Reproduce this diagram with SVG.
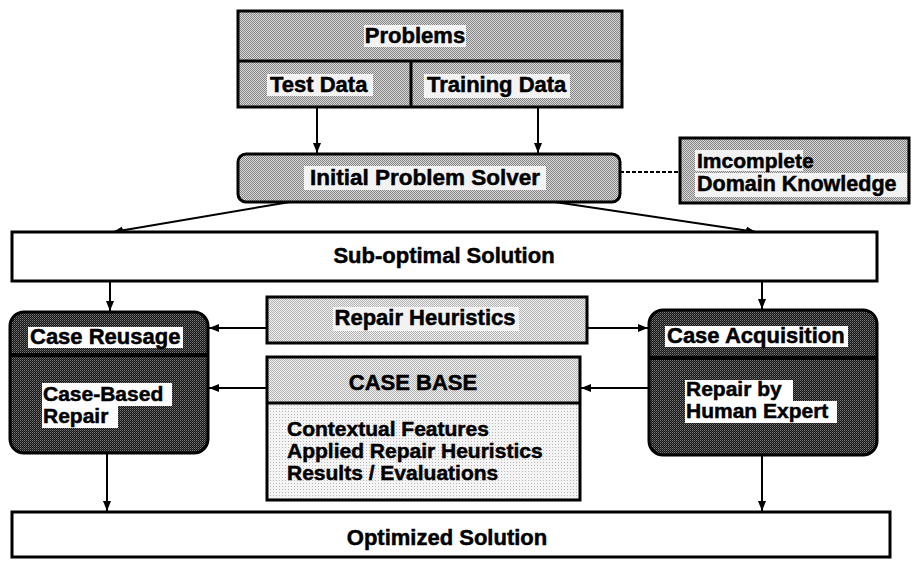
<svg xmlns="http://www.w3.org/2000/svg" width="912" height="562" viewBox="0 0 912 562">
<defs>
<style>
text{font-family:"Liberation Sans",Arial,Helvetica,sans-serif;font-weight:bold;font-size:22px;fill:#000;stroke:#000;stroke-width:0.5}
.c{text-anchor:middle}
.m{font-size:20px}
.box{stroke:#000;stroke-width:3}
.div{stroke:#000;stroke-width:3}
.ddiv{stroke:#000;stroke-width:4}
.lbl{fill:#fff}
.halo{fill:#f2f2f2}
.conn line,.conn path{stroke:#000;stroke-width:2;fill:none}
</style>
<pattern id="pMid" width="2" height="2" patternUnits="userSpaceOnUse">
<rect width="2" height="2" fill="#d8d8d8"/>
<rect width="1" height="1" fill="#858585"/>
<rect x="1" y="1" width="1" height="1" fill="#858585"/>
</pattern>
<pattern id="pLight" width="2" height="2" patternUnits="userSpaceOnUse">
<rect width="2" height="2" fill="#efefef"/>
<rect width="1" height="1" fill="#b4b4b4"/>
<rect x="1" y="1" width="1" height="1" fill="#b4b4b4"/>
</pattern>
<pattern id="pLighter" width="3" height="3" patternUnits="userSpaceOnUse">
<rect width="3" height="3" fill="#f4f4f4"/>
<rect width="1" height="1" fill="#b8b8b8"/>
</pattern>
<pattern id="pDark" width="2" height="2" patternUnits="userSpaceOnUse">
<rect width="2" height="2" fill="#151515"/>
<rect width="1" height="1" fill="#7a7a7a"/>
<rect x="1" y="1" width="1" height="1" fill="#4a4a4a"/>
</pattern>
<marker id="arr" markerWidth="10" markerHeight="8" refX="10" refY="4" orient="auto" markerUnits="userSpaceOnUse">
<path d="M0,0 L10,4 L0,8 z" fill="#000"/>
</marker>
</defs>
<rect width="912" height="562" fill="#fff"/>

<g class="conn" id="connectors">
<line x1="317" y1="107" x2="317" y2="153" marker-end="url(#arr)"/>
<line x1="538" y1="107" x2="538" y2="153" marker-end="url(#arr)"/>
<line x1="620" y1="172" x2="680" y2="172" stroke-dasharray="4,2"/>
<line x1="290" y1="202" x2="113" y2="232" marker-end="url(#arr)"/>
<line x1="555" y1="202" x2="756" y2="232" marker-end="url(#arr)"/>
<line x1="110" y1="281" x2="110" y2="311" marker-end="url(#arr)"/>
<line x1="762" y1="281" x2="762" y2="309" marker-end="url(#arr)"/>
<line x1="267" y1="328" x2="209" y2="328" marker-end="url(#arr)"/>
<line x1="587" y1="328" x2="648" y2="328" marker-end="url(#arr)"/>
<line x1="267" y1="388" x2="209" y2="388" marker-end="url(#arr)"/>
<line x1="649" y1="388" x2="581" y2="388" marker-end="url(#arr)"/>
<line x1="107" y1="453" x2="107" y2="511" marker-end="url(#arr)"/>
<line x1="762" y1="455" x2="762" y2="511" marker-end="url(#arr)"/>
</g>

<g id="problems">
<rect class="box" x="238" y="11" width="384" height="96" fill="url(#pMid)"/>
<line class="div" x1="238" y1="61" x2="622" y2="61"/>
<line class="div" x1="411" y1="61" x2="411" y2="107"/>
<rect class="halo" x="364" y="25" width="102" height="22"/>
<text class="c" x="415" y="43">Problems</text>
<rect class="halo" x="267" y="74" width="106" height="22"/>
<text x="270" y="92">Test Data</text>
<rect class="halo" x="424" y="74" width="146" height="24"/>
<text x="427" y="92">Training Data</text>
</g>

<g id="initial-problem-solver">
<rect class="box" x="238" y="154" width="382" height="48" rx="8" fill="url(#pMid)"/>
<rect class="halo" x="304" y="166" width="242" height="24"/>
<text class="c" x="425" y="185" style="font-size:22.5px">Initial Problem Solver</text>
</g>

<g id="incomplete-domain-knowledge">
<rect class="box" x="680" y="138" width="229" height="65" fill="url(#pMid)"/>
<rect class="halo" x="695" y="150" width="108" height="21"/>
<rect class="halo" x="695" y="173" width="212" height="24"/>
<text x="697" y="168" class="m" style="font-size:21px">Imcomplete</text>
<text x="697" y="191" style="font-size:21.5px">Domain Knowledge</text>
</g>

<g id="sub-optimal-solution">
<rect class="box" x="12" y="232" width="865" height="49" fill="#fff"/>
<text class="c" x="444" y="263">Sub-optimal Solution</text>
</g>

<g id="case-reusage">
<rect class="box" x="10" y="312" width="198" height="141" rx="14" fill="url(#pDark)"/>
<line class="ddiv" x1="11" y1="355" x2="207" y2="355"/>
<rect class="lbl" x="28" y="327" width="155" height="21"/>
<text x="30" y="344">Case Reusage</text>
<rect class="lbl" x="42" y="383" width="130" height="23"/>
<rect class="lbl" x="42" y="405" width="76" height="23"/>
<text x="43" y="401" style="font-size:21px">Case-Based</text>
<text x="43" y="423" style="font-size:21px">Repair</text>
</g>

<g id="repair-heuristics">
<rect class="box" x="267" y="297" width="320" height="46" fill="url(#pLight)"/>
<rect class="halo" x="333" y="307" width="186" height="24"/>
<text class="c" x="425" y="325">Repair Heuristics</text>
</g>

<g id="case-base">
<rect x="267" y="357" width="313" height="46" fill="url(#pLight)"/>
<rect x="267" y="403" width="313" height="97" fill="url(#pLighter)"/>
<rect class="box" x="267" y="357" width="313" height="143" fill="none"/>
<line class="div" x1="267" y1="403" x2="580" y2="403"/>
<text class="c" x="413" y="390">CASE BASE</text>
<text x="287" y="436" style="font-size:21px">Contextual Features</text>
<text x="287" y="458" style="font-size:21px">Applied Repair Heuristics</text>
<text x="287" y="480" style="font-size:21px">Results / Evaluations</text>
</g>

<g id="case-acquisition">
<rect class="box" x="649" y="310" width="228" height="145" rx="14" fill="url(#pDark)"/>
<line class="ddiv" x1="650" y1="358" x2="876" y2="358"/>
<rect class="lbl" x="665" y="326" width="183" height="21"/>
<text x="667" y="343">Case Acquisition</text>
<rect class="lbl" x="685" y="380" width="108" height="22"/>
<rect class="lbl" x="685" y="401" width="152" height="22"/>
<text x="686" y="396" style="font-size:21px">Repair by</text>
<text x="686" y="418" style="font-size:21px">Human Expert</text>
</g>

<g id="optimized-solution">
<rect class="box" x="12" y="512" width="878" height="45" fill="#fff"/>
<text class="c" x="447" y="545">Optimized Solution</text>
</g>
</svg>
